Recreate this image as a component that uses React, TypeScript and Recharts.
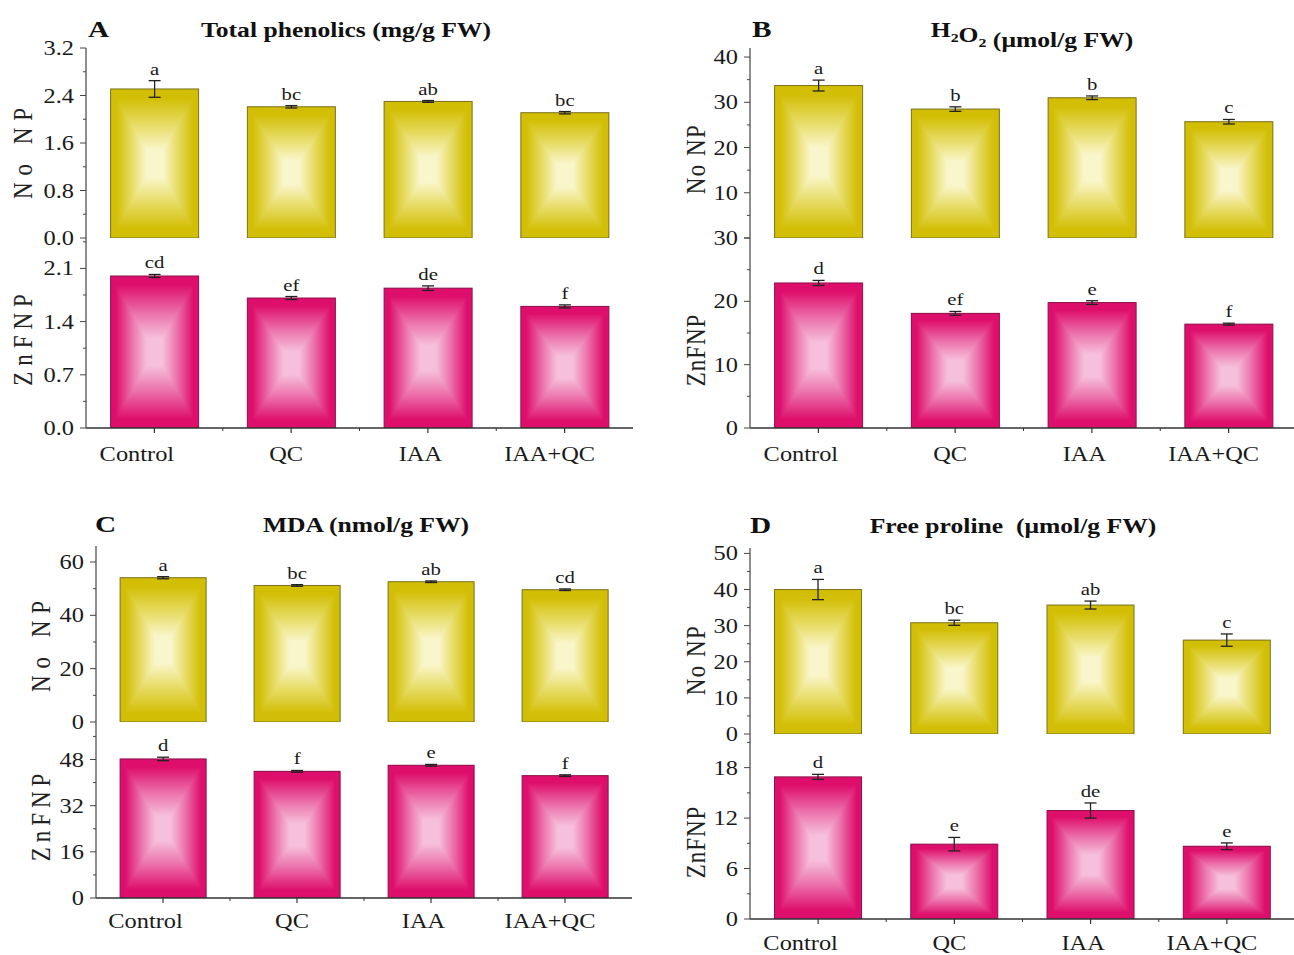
import React from "react";
import { BarChart, Bar, XAxis, YAxis, ErrorBar, LabelList } from "recharts";

const SERIF = '"Liberation Serif", "Times New Roman", serif';
const SX = 1.22; // the figure is stretched horizontally

const categories = ["Control", "QC", "IAA", "IAA+QC"];

// A - total phenolics (mg/g FW)
const phenolicsNoNP = [2.51, 2.21, 2.3, 2.11];
const phenolicsNoNPErr = [0.14, 0.02, 0.015, 0.02];
const phenolicsNoNPSig = ["a", "bc", "ab", "bc"];
const phenolicsZnF = [2.0, 1.71, 1.84, 1.6];
const phenolicsZnFErr = [0.02, 0.02, 0.03, 0.02];
const phenolicsZnFSig = ["cd", "ef", "de", "f"];

// B - H2O2 (umol/g FW)
const h2o2NoNP = [33.7, 28.5, 31.0, 25.7];
const h2o2NoNPErr = [1.2, 0.5, 0.4, 0.5];
const h2o2NoNPSig = ["a", "b", "b", "c"];
const h2o2ZnF = [22.9, 18.1, 19.8, 16.4];
const h2o2ZnFErr = [0.4, 0.3, 0.3, 0.15];
const h2o2ZnFSig = ["d", "ef", "e", "f"];

// C - MDA (nmol/g FW)
const mdaNoNP = [54.1, 51.2, 52.6, 49.6];
const mdaNoNPErr = [0.4, 0.3, 0.3, 0.3];
const mdaNoNPSig = ["a", "bc", "ab", "cd"];
const mdaZnF = [48.2, 43.9, 46.0, 42.4];
const mdaZnFErr = [0.6, 0.3, 0.3, 0.3];
const mdaZnFSig = ["d", "f", "e", "f"];

// D - free proline (umol/g FW)
const prolineNoNP = [40.0, 30.8, 35.7, 26.0];
const prolineNoNPErr = [2.8, 0.7, 1.1, 1.7];
const prolineNoNPSig = ["a", "bc", "ab", "c"];
const prolineZnF = [16.9, 8.9, 12.9, 8.65];
const prolineZnFErr = [0.3, 0.8, 0.9, 0.4];
const prolineZnFSig = ["d", "e", "de", "e"];

const rows = (vals: number[], errs: number[], sig: string[]) =>
  categories.map((cat, i) => ({ cat, v: vals[i], err: errs[i], sig: sig[i] }));

const TONES: any = {
  yel: { edge: "#d2be04", mid: "#e8dd6a", center: "#faf6cc", line: "#7a7020" },
  pink: { edge: "#de0f6c", mid: "#ec74ad", center: "#f6bfdb", line: "#8c1048" },
};

function tickValues(max: number, step: number) {
  const out: number[] = [];
  const half = step / 2;
  for (let i = 0; i * half <= max + 1e-9; i++) out.push(Math.round(i * half * 1000) / 1000);
  return out;
}

// box gradient: contours are rectangles similar to the bar, seams run from the corners
function GradBar(props: any) {
  const { x, y, width, height, tone } = props;
  if (!(height > 0)) return null;
  const c = TONES[tone];
  const x2 = x + width;
  const y2 = y + height;
  const cx = x + width / 2;
  const cy = y + height / 2;
  return (
    <g>
      <rect x={x} y={y} width={width} height={height} fill={`url(#${tone}-h)`} />
      <polygon points={`${x},${y} ${x2},${y} ${cx},${cy}`} fill={`url(#${tone}-t)`} />
      <polygon points={`${x},${y2} ${x2},${y2} ${cx},${cy}`} fill={`url(#${tone}-b)`} />
      <rect x={x} y={y} width={width} height={height} fill="none" stroke={c.line} strokeWidth={1} />
    </g>
  );
}

const makeYTick = (step: number, digits: number, hide: number[]) => (p: any) => {
  const { x, y, payload } = p;
  const v = payload.value;
  const major = Math.abs(v / step - Math.round(v / step)) < 1e-6;
  return (
    <g>
      <line x1={x} x2={x - (major ? 6 : 3)} y1={y} y2={y} stroke="#444" strokeWidth={1} />
      {major && !hide.includes(v) && (
        <text
          transform={`translate(${x - 12},${y + 7}) scale(${SX},1)`}
          textAnchor="end"
          fontSize={20}
          fontFamily={SERIF}
          fill="#1a1a1a"
        >
          {v.toFixed(digits)}
        </text>
      )}
    </g>
  );
};

const makeXTick = (gap: number) => (p: any) => {
  const { x, y, payload, index } = p;
  const off = payload?.offset ?? 0;
  const label = String(payload.value);
  return (
    <g>
      <line x1={x} x2={x} y1={y} y2={y + 5} stroke="#333" strokeWidth={1.2} />
      {index > 0 && off > 0 && <line x1={x - off} x2={x - off} y1={y} y2={y + 3} stroke="#333" />}
      <text
        transform={`translate(${x - 2.5 * label.length},${y + gap}) scale(${SX},1)`}
        textAnchor="middle"
        fontSize={20}
        fontFamily={SERIF}
        fill="#1a1a1a"
      >
        {label}
      </text>
    </g>
  );
};

const makeSig = (data: any[]) => (p: any) => {
  const { x, y, width, height, index, value } = p;
  const row = data[index];
  const errPx = row && row.v ? (row.err / row.v) * Number(height) : 0;
  const tx = Number(x) + Number(width) / 2;
  const ty = Number(y) - errPx - 6;
  return (
    <text
      transform={`translate(${tx},${ty}) scale(${SX},1)`}
      textAnchor="middle"
      fontSize={17}
      fontFamily={SERIF}
      fill="#1a1a1a"
    >
      {value}
    </text>
  );
};

function SubPlot({ tone, data, left, right, top, bottom, domain, step, digits, hide, lower, labelGap }: any) {
  const mT = 12;
  const axisH = lower ? 48 : 0;
  const mB = lower ? 0 : 12;
  const width = right + 5;
  const height = bottom - top + mT + mB + axisH;
  return (
    <div style={{ position: "absolute", left: 0, top: top - mT }}>
      <BarChart
        width={width}
        height={height}
        data={data}
        margin={{ top: mT, right: 5, bottom: mB, left: 0 }}
        barCategoryGap="18%"
      >
        <XAxis
          dataKey="cat"
          xAxisId="top"
          orientation="top"
          height={0}
          tick={false}
          tickLine={false}
          axisLine={{ stroke: "#777", strokeWidth: 1.2 }}
        />
        <XAxis
          dataKey="cat"
          height={axisH}
          interval={0}
          tickSize={0}
          tickMargin={0}
          tickLine={false}
          tick={lower ? makeXTick(labelGap) : false}
          axisLine={lower ? { stroke: "#333", strokeWidth: 1.5 } : { stroke: "#111", strokeWidth: 2.4 }}
        />
        <YAxis
          width={left}
          type="number"
          domain={domain}
          ticks={tickValues(domain[1], step)}
          interval={0}
          allowDataOverflow
          tickSize={0}
          tickMargin={0}
          tickLine={false}
          tick={makeYTick(step, digits, hide || [])}
          axisLine={{ stroke: "#444", strokeWidth: 1.2 }}
        />
        <YAxis
          yAxisId="r"
          orientation="right"
          width={0}
          tick={false}
          tickLine={false}
          axisLine={{ stroke: "#777", strokeWidth: 1.2 }}
        />
        <Bar dataKey="v" isAnimationActive={false} shape={(p: any) => <GradBar {...p} tone={tone} />}>
          <ErrorBar dataKey="err" width={6} stroke="#222" strokeWidth={1.3} />
          <LabelList dataKey="sig" content={makeSig(data)} />
        </Bar>
      </BarChart>
    </div>
  );
}

const sub = (n: string) => (
  <>
    <tspan fontSize={13} dy={5}>{n}</tspan>
    <tspan dy={-5}></tspan>
  </>
);

const panels = [
  {
    key: "A", lx: 88, ly: 37, tx: 346, ty: 37,
    title: <tspan>Total phenolics (mg/g FW)</tspan>,
    left: 86, right: 633, top: 48, mid: 238, bottom: 428, gap: 33,
    up: { data: rows(phenolicsNoNP, phenolicsNoNPErr, phenolicsNoNPSig), domain: [0, 3.2], step: 0.8, digits: 1 },
    lo: { data: rows(phenolicsZnF, phenolicsZnFErr, phenolicsZnFSig), domain: [0, 2.5], step: 0.7, digits: 1 },
    yx: 32, upY: 150, loY: 337, upLs: 7, loLs: 6,
  },
  {
    key: "B", lx: 752, ly: 37, tx: 1032, ty: 37,
    title: (
      <>
        <tspan>H</tspan>{sub("2")}<tspan>O</tspan>{sub("2")}<tspan> (μmol/g FW)</tspan>
      </>
    ),
    left: 750, right: 1297, top: 48, mid: 238, bottom: 428, gap: 33,
    up: { data: rows(h2o2NoNP, h2o2NoNPErr, h2o2NoNPSig), domain: [0, 42], step: 10, digits: 0, hide: [0] },
    lo: { data: rows(h2o2ZnF, h2o2ZnFErr, h2o2ZnFSig), domain: [0, 30], step: 10, digits: 0 },
    yx: 705, upY: 159, loY: 350, upLs: 1.5, loLs: 1,
  },
  {
    key: "C", lx: 95, ly: 532, tx: 366, ty: 532,
    title: <tspan>MDA (nmol/g FW)</tspan>,
    left: 96, right: 632, top: 546, mid: 722, bottom: 898, gap: 30,
    up: { data: rows(mdaNoNP, mdaNoNPErr, mdaNoNPSig), domain: [0, 66], step: 20, digits: 0 },
    lo: { data: rows(mdaZnF, mdaZnFErr, mdaZnFSig), domain: [0, 61], step: 16, digits: 0 },
    yx: 50, upY: 643, loY: 815, upLs: 7, loLs: 5,
  },
  {
    key: "D", lx: 750, ly: 533, tx: 1013, ty: 533,
    title: <tspan style={{ whiteSpace: "pre" }}>Free proline  (μmol/g FW)</tspan>,
    left: 750, right: 1295, top: 548, mid: 734, bottom: 919, gap: 31,
    up: { data: rows(prolineNoNP, prolineNoNPErr, prolineNoNPSig), domain: [0, 51.5], step: 10, digits: 0 },
    lo: { data: rows(prolineZnF, prolineZnFErr, prolineZnFSig), domain: [0, 22], step: 6, digits: 0 },
    yx: 705, upY: 660, loY: 842, upLs: 1.5, loLs: 1,
  },
];

// t = 0 at the edge, 1 at the centre
function edgeStops(c: any) {
  return [
    <stop key="0" offset="0" stopColor={c.edge} />,
    <stop key="1" offset="0.12" stopColor={c.edge} />,
    <stop key="2" offset="0.5" stopColor={c.mid} />,
    <stop key="3" offset="0.82" stopColor={c.center} />,
    <stop key="4" offset="1" stopColor={c.center} />,
  ];
}

function symStops(c: any) {
  return [
    <stop key="0" offset="0" stopColor={c.edge} />,
    <stop key="1" offset="0.06" stopColor={c.edge} />,
    <stop key="2" offset="0.25" stopColor={c.mid} />,
    <stop key="3" offset="0.41" stopColor={c.center} />,
    <stop key="4" offset="0.59" stopColor={c.center} />,
    <stop key="5" offset="0.75" stopColor={c.mid} />,
    <stop key="6" offset="0.94" stopColor={c.edge} />,
    <stop key="7" offset="1" stopColor={c.edge} />,
  ];
}

function Gradients() {
  return (
    <defs>
      {Object.keys(TONES).map((k) => {
        const c = TONES[k];
        return (
          <React.Fragment key={k}>
            <linearGradient id={`${k}-h`} x1="0" y1="0" x2="1" y2="0">{symStops(c)}</linearGradient>
            <linearGradient id={`${k}-t`} x1="0" y1="0" x2="0" y2="1">{edgeStops(c)}</linearGradient>
            <linearGradient id={`${k}-b`} x1="0" y1="1" x2="0" y2="0">{edgeStops(c)}</linearGradient>
          </React.Fragment>
        );
      })}
    </defs>
  );
}

function Overlay() {
  return (
    <svg width={1294} height={955} style={{ position: "absolute", left: 0, top: 0, pointerEvents: "none" }}>
      <Gradients />
      {panels.map((p) => (
        <g key={p.key} fontFamily={SERIF} fill="#111">
          <text transform={`translate(${p.lx},${p.ly}) scale(${SX},1)`} fontSize={24} fontWeight="bold">
            {p.key}
          </text>
          <text
            transform={`translate(${p.tx},${p.ty}) scale(${SX},1)`}
            fontSize={21}
            fontWeight="bold"
            textAnchor="middle"
            style={{ whiteSpace: "pre" }}
          >
            {p.title}
          </text>
          <text
            transform={`translate(${p.yx},${p.upY}) scale(${SX},1) rotate(-90)`}
            fontSize={23}
            textAnchor="middle"
            letterSpacing={p.upLs}
            fill="#222"
          >
            No NP
          </text>
          <text
            transform={`translate(${p.yx},${p.loY}) scale(${SX},1) rotate(-90)`}
            fontSize={23}
            textAnchor="middle"
            letterSpacing={p.loLs}
            fill="#222"
          >
            ZnFNP
          </text>
        </g>
      ))}
    </svg>
  );
}

export default function App() {
  return (
    <div
      style={{
        position: "absolute",
        left: 0,
        top: 0,
        width: 1294,
        height: 955,
        overflow: "hidden",
        background: "#fff",
        fontFamily: SERIF,
      }}
    >
      {panels.map((p) => (
        <React.Fragment key={p.key}>
          <SubPlot tone="yel" {...p.up} left={p.left} right={p.right} top={p.top} bottom={p.mid} />
          <SubPlot tone="pink" {...p.lo} left={p.left} right={p.right} top={p.mid} bottom={p.bottom} lower labelGap={p.gap} />
        </React.Fragment>
      ))}
      <Overlay />
    </div>
  );
}
